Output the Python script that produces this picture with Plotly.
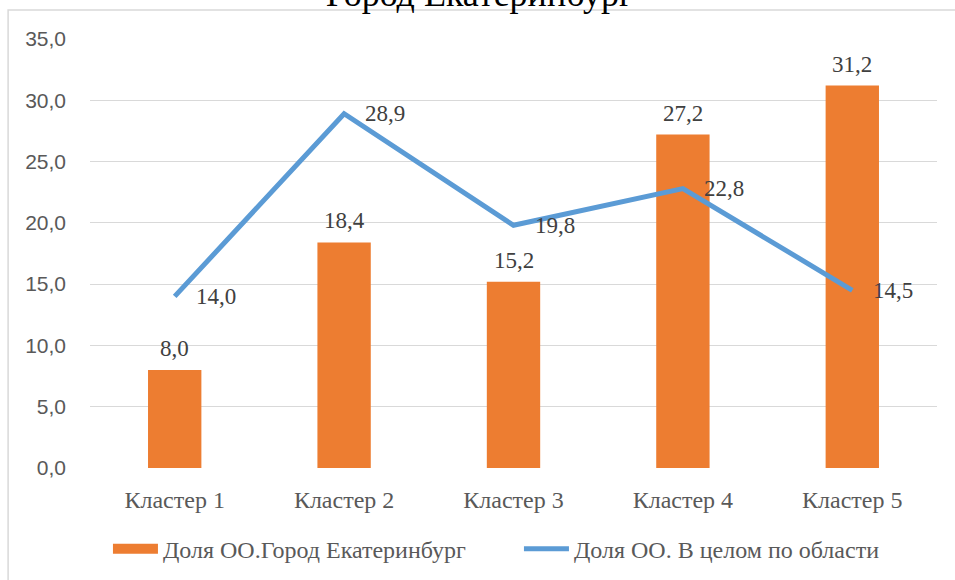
import plotly.graph_objects as go

categories = ["Кластер 1", "Кластер 2", "Кластер 3", "Кластер 4", "Кластер 5"]
city_share = [8.0, 18.4, 15.2, 27.2, 31.2]
region_share = [14.0, 28.9, 19.8, 22.8, 14.5]
city_name = "Доля ОО.Город Екатеринбург"
region_name = "Доля ОО. В целом по области"
title_text = "Город Екатеринбург"

SERIF = "Liberation Serif"
SANS = "Liberation Sans"
ORANGE = "#ED7D31"
BLUE = "#5B9BD5"

def fmt(v):
    return f"{v:.1f}".replace(".", ",")

fig = go.Figure()
fig.add_trace(go.Bar(
    x=categories, y=city_share, name=city_name, showlegend=False,
    marker=dict(color=ORANGE, line=dict(width=0)),
    width=0.315,
))
# legend entry for the bars (wide orange swatch as in the reference)
fig.add_trace(go.Scatter(
    x=[None], y=[None], name=city_name, mode="lines",
    line=dict(color=ORANGE, width=10),
))
fig.add_trace(go.Scatter(
    x=categories, y=region_share, name=region_name, mode="lines",
    line=dict(color=BLUE, width=5),
))

annotations = []
for c, v in zip(categories, city_share):
    annotations.append(dict(x=c, y=v, xref="x", yref="y", text=fmt(v), showarrow=False,
                            yanchor="bottom", yshift=7,
                            font=dict(family=SERIF, size=23, color="#404040")))
for c, v in zip(categories, region_share):
    annotations.append(dict(x=c, y=v, xref="x", yref="y", text=fmt(v), showarrow=False,
                            xanchor="left", yanchor="middle", xshift=19,
                            font=dict(family=SERIF, size=23, color="#404040")))
annotations.append(dict(x=0.46, y=1.0, xref="paper", yref="paper", text=title_text,
                        showarrow=False, xanchor="center", yanchor="bottom", yshift=23,
                        font=dict(family=SERIF, size=36, color="#000000")))

fig.update_layout(
    width=955, height=580,
    margin=dict(l=90, r=18, t=39, b=112, autoexpand=False),
    paper_bgcolor="white", plot_bgcolor="white",
    separators=", ",
    showlegend=True,
    legend=dict(orientation="h", x=0.0212, xanchor="left", y=-0.189, yanchor="middle",
                font=dict(family=SERIF, size=24, color="#595959"),
                itemwidth=45, entrywidth=351, entrywidthmode="pixels",
                tracegroupgap=0, traceorder="normal"),
    annotations=annotations,
    shapes=[dict(type="rect", xref="paper", yref="paper",
                 x0=-0.0967, x1=1.05, y0=-0.3, y1=1.0676,
                 line=dict(color="#D9D9D9", width=1.5), layer="below")],
    bargap=0.68,
)
fig.update_xaxes(type="category", showgrid=False, showline=False, zeroline=False,
                 tickfont=dict(family=SERIF, size=24, color="#595959"),
                 ticks="", ticklabelstandoff=15)
fig.update_yaxes(range=[0, 35], dtick=5, tickformat=".1f", showgrid=True,
                 gridcolor="#D9D9D9", gridwidth=1.3, zeroline=False, showline=False,
                 tickfont=dict(family=SANS, size=21, color="#595959"),
                 ticks="", ticklabelstandoff=23)

fig.write_html("out.html", config={"displayModeBar": False},
               post_script="document.body.style.margin='0';")
